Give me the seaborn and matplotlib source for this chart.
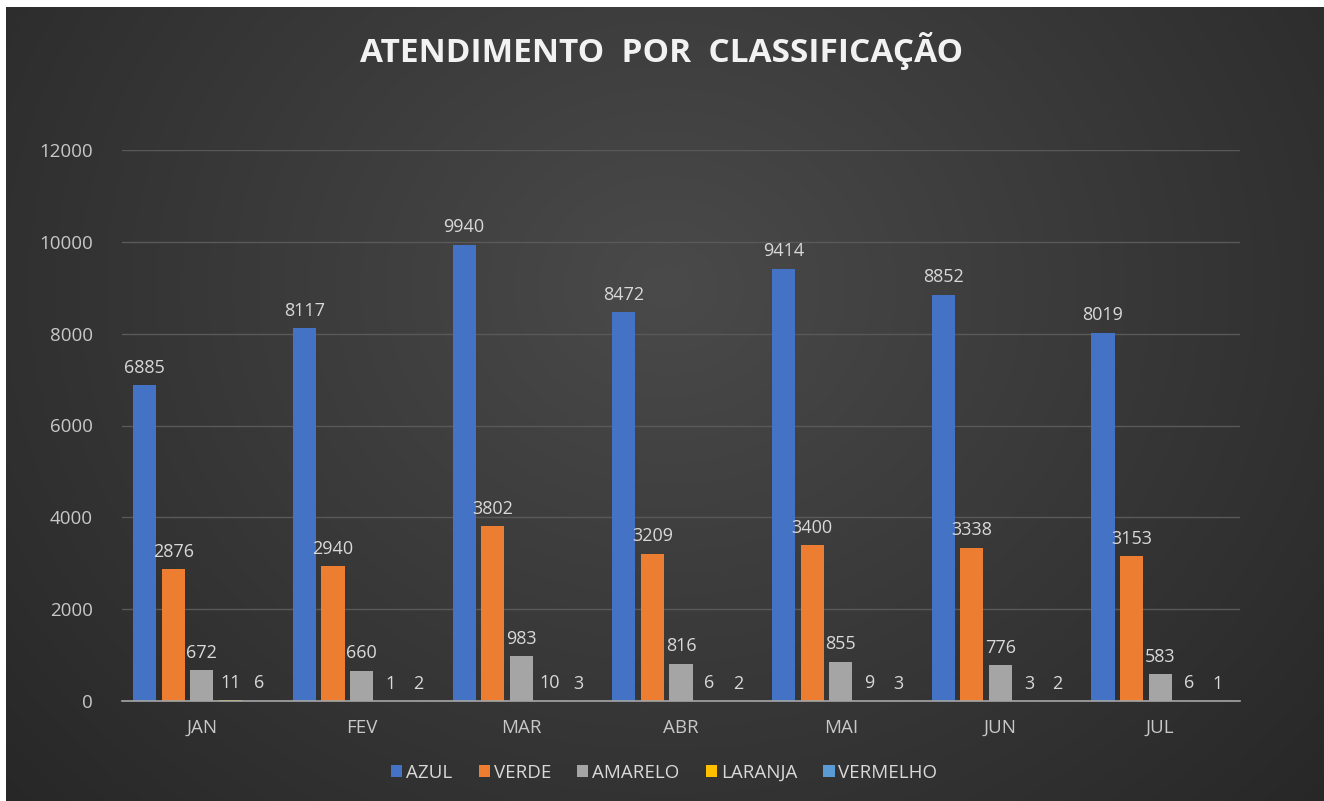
import numpy as np
import pandas as pd
import matplotlib
matplotlib.use("Agg")
import matplotlib.pyplot as plt
import seaborn as sns

months = ["JAN", "FEV", "MAR", "ABR", "MAI", "JUN", "JUL"]
series = ["AZUL", "VERDE", "AMARELO", "LARANJA", "VERMELHO"]
azul = [6885, 8117, 9940, 8472, 9414, 8852, 8019]
verde = [2876, 2940, 3802, 3209, 3400, 3338, 3153]
amarelo = [672, 660, 983, 816, 855, 776, 583]
laranja = [11, 1, 10, 6, 9, 3, 6]
vermelho = [6, 2, 3, 2, 3, 2, 1]
colors = ["#4472C4", "#ED7D31", "#A5A5A5", "#FFC000", "#5B9BD5"]

values = [azul, verde, amarelo, laranja, vermelho]
df = pd.DataFrame({
    "mes": months * len(series),
    "classe": [s for s in series for _ in months],
    "valor": [v for vals in values for v in vals],
})

sns.set_theme(style="dark")
plt.rcParams["font.family"] = ["Open Sans", "DejaVu Sans"]

W, H = 1324, 801
fig = plt.figure(figsize=(W / 100, H / 100), dpi=100, facecolor="white")

# background with radial gradient
bg = fig.add_axes([6 / W, 0, (W - 6) / W, (H - 7) / H], zorder=0)
yy, xx = np.mgrid[0:200, 0:330]
cx, cy = 165, 70
d = np.sqrt(((xx - cx) / 230.0) ** 2 + ((yy - cy) / 200.0) ** 2)
d = np.clip(d, 0, 1)
inner = np.array([0x4a, 0x4a, 0x4a]) / 255.0
outer = np.array([0x26, 0x26, 0x26]) / 255.0
img = inner[None, None, :] * (1 - d[..., None]) + outer[None, None, :] * d[..., None]
bg.imshow(img, aspect="auto", interpolation="bicubic")
bg.set_axis_off()

ax = fig.add_axes([122 / W, 1 - 701 / H, (1240 - 122) / W, (701 - 150) / H], zorder=1)
ax.patch.set_alpha(0)

sns.barplot(data=df, x="mes", y="valor", hue="classe", order=months,
            hue_order=series, palette=colors, width=0.895, gap=0.19,
            saturation=1, ax=ax, legend=True, zorder=3, linewidth=0,
            edgecolor="none")

ax.set_ylim(0, 12000)
ax.set_xlim(-0.5, len(months) - 0.5)
ax.set_yticks(range(0, 12001, 2000))
ax.grid(axis="y", color="#595959", linewidth=1, zorder=0)
ax.grid(axis="x", visible=False)
for s in ["top", "right", "left"]:
    ax.spines[s].set_visible(False)
ax.spines["bottom"].set_color("#A6A6A6")
ax.spines["bottom"].set_linewidth(1.2)
ax.spines["bottom"].set_zorder(4)
ax.tick_params(axis="both", length=0, colors="#C8C8C8", labelsize=13.5)
ax.tick_params(axis="x", pad=13)
ax.tick_params(axis="y", pad=21)
ax.set_xlabel("")
ax.set_ylabel("")

for cont in ax.containers:
    ax.bar_label(cont, padding=6, color="#D9D9D9", fontsize=13)

leg = ax.legend(loc="upper center", bbox_to_anchor=(0.485, -0.083), ncol=5,
                frameon=False, fontsize=13.5, labelcolor="#D9D9D9",
                handlelength=0.6, handleheight=0.6, handletextpad=0.2,
                columnspacing=1.4)

fig.text(0.5, 1 - 51 / H, "ATENDIMENTO  POR  CLASSIFICAÇÃO", ha="center", va="center",
         fontsize=24, fontweight="bold", color="#F2F2F2")

fig.savefig("out.png", dpi=100, facecolor="white")
